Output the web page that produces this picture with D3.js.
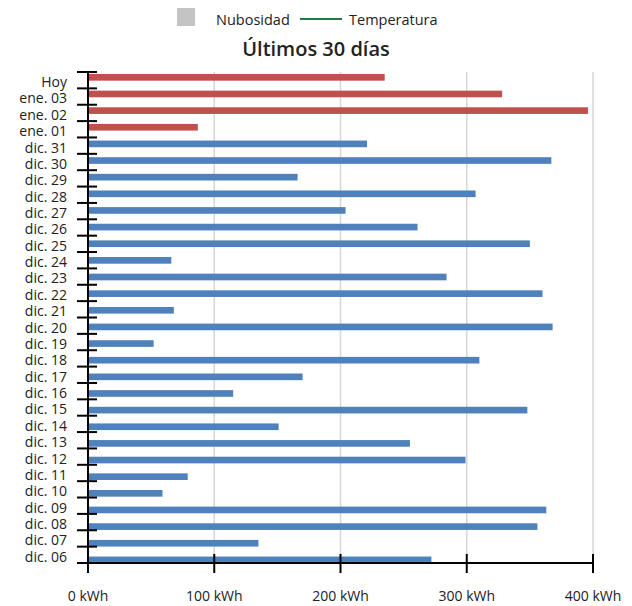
<!DOCTYPE html>
<html>
<head>
<meta charset="utf-8">
<script src="https://cdn.jsdelivr.net/npm/d3@7"></script>
<style>
  body { margin: 0; background: #fff; }
  text { font-family: "Open Sans", "Noto Sans", sans-serif; fill: #222; }
</style>
</head>
<body>
<svg id="chart" width="632" height="606"></svg>
<script>
// categories top to bottom
var days = ["Hoy", "ene. 03", "ene. 02", "ene. 01", "dic. 31", "dic. 30", "dic. 29", "dic. 28",
  "dic. 27", "dic. 26", "dic. 25", "dic. 24", "dic. 23", "dic. 22", "dic. 21", "dic. 20",
  "dic. 19", "dic. 18", "dic. 17", "dic. 16", "dic. 15", "dic. 14", "dic. 13", "dic. 12",
  "dic. 11", "dic. 10", "dic. 09", "dic. 08", "dic. 07", "dic. 06"];
var energy = [235, 328, 396, 87, 221, 367, 166, 307, 204, 261, 350, 66, 284, 360, 68, 368,
  52, 310, 170, 115, 348, 151, 255, 299, 79, 59, 363, 356, 135, 272];
// first four are the current month (red), rest previous month (blue)
var isNew = [1, 1, 1, 1, 0, 0, 0, 0, 0, 0, 0, 0, 0, 0, 0, 0, 0, 0, 0, 0, 0, 0, 0, 0, 0, 0, 0, 0, 0, 0];
var xTicks = [0, 100, 200, 300, 400];

var svg = d3.select("#chart");
var plotLeft = 88, plotRight = 593, plotTop = 72, plotBottom = 563;

var x = d3.scaleLinear().domain([0, 400]).range([plotLeft, plotRight]);
var y = d3.scaleBand().domain(days).range([plotTop, plotBottom]);
var yBar = d3.scaleBand().domain(days).range([74, 563.2]).paddingInner(0.6).paddingOuter(0);

// legend
svg.append("rect").attr("x", 177).attr("y", 8).attr("width", 18).attr("height", 18).attr("fill", "#c4c4c4");
svg.append("text").attr("x", 216).attr("y", 25).attr("font-size", 14.5).text("Nubosidad");
svg.append("line").attr("x1", 300).attr("x2", 342).attr("y1", 19).attr("y2", 19)
  .attr("stroke", "#1e7b45").attr("stroke-width", 2);
svg.append("text").attr("x", 349).attr("y", 25).attr("font-size", 14.5).text("Temperatura");

// title
svg.append("text").attr("x", 316).attr("y", 56).attr("text-anchor", "middle")
  .attr("font-size", 20).attr("font-weight", 600).text("Últimos 30 días");

// grid
svg.selectAll(".grid").data(xTicks.slice(1)).enter().append("line")
  .attr("class", "grid")
  .attr("x1", function(d){ return x(d); }).attr("x2", function(d){ return x(d); })
  .attr("y1", plotTop).attr("y2", plotBottom)
  .attr("stroke", "#d6d6d6").attr("stroke-width", 1.5);

// bars
svg.selectAll(".bar").data(energy).enter().append("rect")
  .attr("class", "bar")
  .attr("x", x(0))
  .attr("y", function(d, i){ return yBar(days[i]); })
  .attr("width", function(d){ return x(d) - x(0); })
  .attr("height", yBar.bandwidth())
  .attr("fill", function(d, i){ return isNew[i] ? "#c0504d" : "#4f81bd"; });

// y axis
var yTickPos = days.map(function(d){ return y(d); }).concat([plotBottom]);
svg.append("line").attr("x1", plotLeft).attr("x2", plotLeft).attr("y1", plotTop).attr("y2", plotBottom + 10)
  .attr("stroke", "#000").attr("stroke-width", 2);
svg.selectAll(".ytick").data(yTickPos).enter().append("line")
  .attr("class", "ytick")
  .attr("x1", plotLeft - 11).attr("x2", plotLeft + 9)
  .attr("y1", function(d){ return d; }).attr("y2", function(d){ return d; })
  .attr("stroke", "#000").attr("stroke-width", 2);
svg.selectAll(".ylab").data(days).enter().append("text")
  .attr("class", "ylab")
  .attr("x", 67)
  .attr("y", function(d){ return y(d) + y.bandwidth() / 2 + 2; })
  .attr("dy", "0.35em")
  .attr("text-anchor", "end")
  .attr("font-size", 14)
  .text(function(d){ return d; });

// x axis
svg.append("line").attr("x1", plotLeft).attr("x2", plotRight).attr("y1", plotBottom).attr("y2", plotBottom)
  .attr("stroke", "#000").attr("stroke-width", 2);
svg.selectAll(".xtick").data(xTicks.slice(1)).enter().append("line")
  .attr("class", "xtick")
  .attr("x1", function(d){ return x(d); }).attr("x2", function(d){ return x(d); })
  .attr("y1", plotBottom - 9).attr("y2", plotBottom + 10)
  .attr("stroke", "#000").attr("stroke-width", 2);
svg.selectAll(".xlab").data(xTicks).enter().append("text")
  .attr("class", "xlab")
  .attr("x", function(d){ return x(d); })
  .attr("y", 601)
  .attr("text-anchor", "middle")
  .attr("font-size", 14)
  .text(function(d){ return d + " kWh"; });
</script>
</body>
</html>
